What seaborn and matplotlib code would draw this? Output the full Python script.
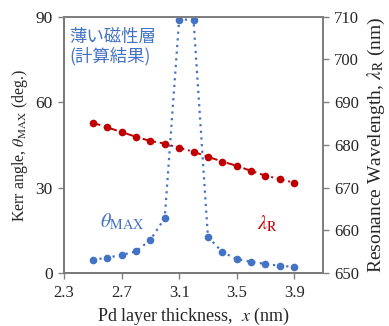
import numpy as np
import pandas as pd
import seaborn as sns
import matplotlib.pyplot as plt

# Data
thickness = [2.5, 2.6, 2.7, 2.8, 2.9, 3.0, 3.1, 3.2, 3.3, 3.4, 3.5, 3.6, 3.7, 3.8, 3.9]
kerr_angle = [4.6, 5.4, 6.3, 7.6, 11.6, 19.3, 89.0, 89.0, 12.7, 7.4, 4.9, 3.9, 3.2, 2.5, 2.2]
resonance_wl = [685.2, 684.1, 683.0, 681.9, 680.9, 680.3, 679.3, 678.4, 677.2, 676.1,
                675.1, 673.9, 672.8, 672.0, 671.1]
x_ticks = [2.3, 2.7, 3.1, 3.5, 3.9]
left_ticks = [0, 30, 60, 90]
right_ticks = [650, 660, 670, 680, 690, 700, 710]

df = pd.DataFrame({"x": thickness, "kerr": kerr_angle, "wl": resonance_wl})

blue = "#4472C4"
red = "#C00000"

sns.set_style("ticks")
plt.rcParams['font.family'] = ['Liberation Serif', 'DejaVu Serif']
plt.rcParams['mathtext.fontset'] = 'stix'

fig = plt.figure(figsize=(3.89, 3.26), dpi=100)
ax = fig.add_axes([0.1645, 0.1626, 0.666, 0.786])
ax2 = ax.twinx()

# Kerr angle (left axis)
sns.lineplot(data=df, x="x", y="kerr", ax=ax, color=blue, linestyle=(0, (1, 2)),
             linewidth=1.6, marker="o", markersize=5.5, markeredgewidth=0, clip_on=False)
# Resonance wavelength (right axis)
sns.lineplot(data=df, x="x", y="wl", ax=ax2, color=red, linestyle=(0, (4, 2, 1, 2)),
             linewidth=1.4, marker="o", markersize=5.5, markeredgewidth=0)

ax.set_xlim(2.3, 4.1)
ax.set_ylim(0, 90)
ax.set_xticks(x_ticks)
ax.set_xticklabels([f"{t:.1f}" for t in x_ticks])
ax.set_yticks(left_ticks)
ax2.set_ylim(650, 710)
ax2.set_yticks(right_ticks)

ax.set_xlabel(r"Pd layer thickness,  $x$ (nm)", fontsize=13, labelpad=3)
ax.set_ylabel(r"Kerr angle, $\theta_{\mathrm{MAX}}$ (deg.)", fontsize=11.5, labelpad=4)
ax2.set_ylabel(r"Resonance Wavelength, $\lambda_{\mathrm{R}}$ (nm)", fontsize=14, labelpad=5)

ax.tick_params(axis="x", labelsize=12, pad=5)
ax.tick_params(axis="y", labelsize=12.5, pad=4)
ax2.tick_params(axis="y", labelsize=12, pad=4)
for a in (ax, ax2):
    a.tick_params(length=4, width=1, color="#808080")
    for s in a.spines.values():
        s.set_color("#7f7f7f")
        s.set_linewidth(1.3)
        s.set_visible(True)
ax.spines["left"].set_color("#404040")
ax.spines["bottom"].set_color("#404040")

ax.text(2.34, 86, "薄い磁性層\n(計算結果)", color=blue, fontsize=12.5, va="top", ha="left",
        linespacing=1.05, family=['Noto Sans CJK JP', 'DejaVu Sans'])
ax.text(2.55, 18, r"$\theta_{\mathrm{MAX}}$", color=blue, fontsize=14.5, va="center", ha="left")
ax2.text(3.64, 661.5, r"$\lambda_{\mathrm{R}}$", color=red, fontsize=14.5, va="center", ha="left")

plt.savefig("out.png", dpi=100)
